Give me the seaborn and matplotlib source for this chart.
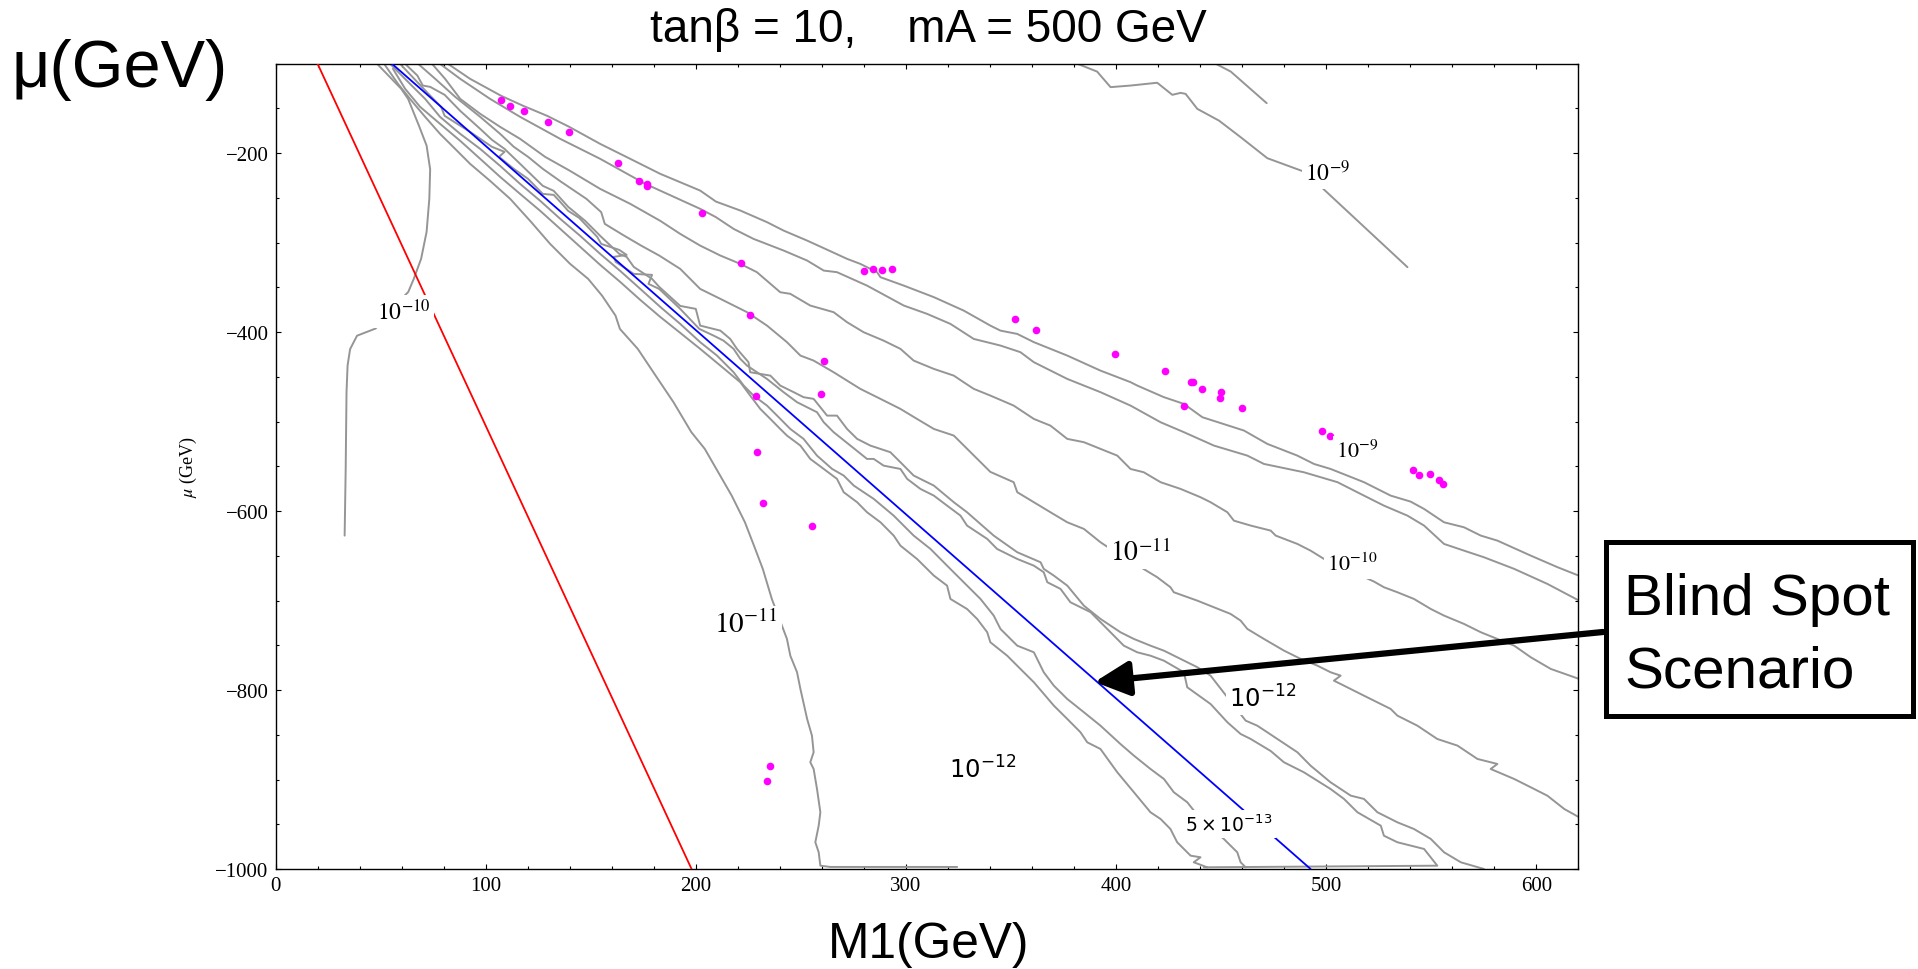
import matplotlib
matplotlib.use("Agg")
import matplotlib.pyplot as plt
import seaborn as sns
from matplotlib.ticker import MultipleLocator
from matplotlib.patches import Rectangle

# ---------------- data (M1 [GeV], mu [GeV]) ----------------
red_m1 = [20.0, 198.0]
red_mu = [-100.0, -1000.0]
blue_m1 = [55.4, 492.6]
blue_mu = [-100.0, -1000.0]

# far-left 1e-10 contour
m1_L4 = [48.3, 59.8, 63.1, 68.3, 71.9, 73.6, 73.2, 71.9, 69.3, 65.8, 63.2, 55.0, 47.6, 38.8, 35.5, 34.3, 33.8, 33.4, 32.9]
mu_L4 = [-100, -128, -139.3, -169.5, -191.5, -218, -251, -288, -318, -340.5, -355, -375, -396, -404, -419, -437.4, -467, -553, -627.4]

# top-right 1e-9 contour pieces
m1_T1 = [381.5, 391.0, 397.4, 407.0, 419.6, 426.8, 430.7, 433.1, 438.7, 449.0, 459.3, 472.0, 489.4, 499.0, 538.7]
mu_T1 = [-100, -108.8, -126.2, -124.4, -121.3, -134.8, -132.6, -133.7, -150.5, -163.6, -182.1, -205.6, -220.6, -240.7, -327.4]
m1_T2 = [447.4, 454.6, 471.7]
mu_T2 = [-100, -108.8, -144.1]

# band contours, right of blind spot
m1_R5a = [82.1, 92.6, 107.4, 117.9, 129.3, 139.8, 154.5, 168.8, 183.1, 202.1, 209.6, 221.2, 233.9, 241.8, 253.0, 261.7,
          272.0, 278.3, 286.3, 287.9, 299.0, 313.3, 327.5, 340.2, 345.0, 353.0, 360.9, 376.8, 392.6, 406.9, 410.1, 422.8,
          432.3, 441.1, 460.9, 472.0, 486.3, 494.2, 502.1, 518.0, 530.7, 540.2, 546.6, 556.1, 565.6, 573.6, 581.5, 597.4,
          610.1, 620.4]
mu_R5a = [-100.2, -116.9, -135.9, -147.1, -158.3, -170.6, -189.6, -206.3, -223.1, -241.8, -254.1, -264.1, -277.1, -286.5,
          -297.7, -307.0, -318.1, -323.7, -333.0, -338.6, -348.0, -360.9, -375.9, -392.7, -398.3, -402.0, -411.2, -426.2,
          -443.0, -455.9, -459.7, -472.7, -480.2, -495.1, -510.0, -524.9, -538.0, -547.3, -552.9, -567.7, -582.7, -589.4,
          -597.6, -612.5, -618.1, -627.4, -633.0, -649.8, -662.7, -672.3]

m1_R5b = [78.3, 87.9, 102.1, 116.4, 135.5, 154.5, 176.0, 202.1, 209.6, 218.0, 227.5, 241.8, 253.0, 260.9, 267.2, 281.5,
          299.0, 310.1, 321.2, 332.3, 345.0, 354.5, 360.9, 376.8, 392.6, 406.9, 421.2, 432.3, 446.6, 462.5, 470.4, 489.4,
          505.4, 518.0, 527.5, 538.7, 546.6, 556.1, 565.6, 575.1, 589.5, 605.3, 620.4]
mu_R5b = [-100.2, -116.9, -139.3, -159.4, -184.0, -206.3, -234.3, -262.2, -271.5, -284.6, -295.8, -308.8, -320.0, -331.2,
          -333.0, -348.0, -370.3, -379.6, -390.8, -407.6, -415.0, -422.4, -433.6, -452.3, -467.1, -482.1, -500.7, -511.8,
          -526.8, -538.0, -547.3, -556.6, -567.7, -582.7, -593.9, -605.1, -616.2, -636.7, -644.2, -651.6, -664.6, -681.4,
          -700.1]

m1_R4 = [74.5, 80.7, 87.9, 97.4, 106.9, 116.4, 128.3, 140.2, 154.5, 168.8, 183.1, 192.6, 202.1, 211.7, 221.2, 229.1,
         240.2, 245.0, 254.5, 265.6, 272.0, 279.9, 289.4, 297.4, 303.7, 313.3, 322.8, 327.5, 332.3, 340.2, 351.3, 360.9,
         368.8, 376.8, 384.7, 400.6, 406.9, 413.2, 421.2, 430.7, 440.2, 445.0, 453.0, 456.1, 464.1, 473.6, 476.0, 486.3,
         492.6, 499.0, 511.7, 522.8, 527.5, 533.9, 541.8, 549.8, 556.1, 565.6, 573.6, 581.5, 589.5, 597.4, 606.9, 620.4]
mu_R4 = [-100.2, -116.9, -139.3, -156.0, -170.6, -184.0, -204.1, -219.8, -239.9, -256.6, -275.6, -290.2, -303.3, -314.4,
         -323.7, -333.0, -355.4, -357.2, -370.3, -377.7, -388.9, -400.1, -409.5, -418.7, -431.8, -441.1, -448.6, -456.0,
         -463.4, -470.9, -482.1, -497.0, -504.5, -519.3, -523.0, -538.0, -552.9, -556.6, -567.7, -575.2, -584.5, -590.1,
         -601.3, -610.7, -616.2, -621.8, -627.4, -636.7, -644.2, -653.5, -666.9, -678.8, -685.1, -690.7, -698.2, -709.4,
         -716.8, -726.1, -735.4, -742.9, -750.4, -763.4, -776.4, -787.6]

m1_R3 = [67.9, 76.0, 85.5, 97.4, 106.9, 113.4, 120.2, 127.2, 136.0, 148.0, 155.0, 156.7, 165.3, 174.0, 182.6, 192.6,
         202.1, 211.7, 224.4, 233.9, 243.4, 249.8, 256.1, 265.6, 278.3, 287.9, 297.4, 305.3, 313.3, 322.8, 340.2, 351.3,
         353.0, 360.9, 368.8, 376.8, 384.7, 392.6, 397.4, 419.6, 425.9, 427.5, 438.7, 454.5, 459.3, 462.5, 470.4, 479.9,
         487.9, 495.8, 502.1, 506.9, 503.7, 508.5, 518.0, 530.7, 533.9, 543.4, 552.9, 562.5, 572.0, 581.5, 578.3, 589.5,
         597.4, 605.3, 613.3, 620.4]
mu_R3 = [-100.2, -116.9, -137.0, -159.4, -178.4, -192.9, -204.1, -217.5, -232.1, -251.1, -265.9, -279.0, -291.3, -303.3,
         -314.4, -329.3, -351.7, -362.8, -377.7, -392.7, -411.2, -426.2, -431.8, -444.8, -463.4, -474.6, -485.8, -497.0,
         -508.2, -515.6, -556.2, -567.7, -578.9, -590.1, -601.3, -612.5, -619.9, -634.8, -642.3, -673.9, -685.1, -690.7,
         -700.1, -714.9, -722.4, -731.7, -742.9, -755.9, -765.2, -772.7, -780.1, -783.9, -789.5, -795.1, -806.3, -821.1,
         -828.6, -839.8, -854.7, -862.1, -877.0, -882.6, -888.2, -899.4, -908.7, -918.1, -932.9, -942.2]

m1_R2 = [61.7, 67.5, 70.1, 73.6, 80.5, 87.9, 97.4, 103.0, 109.0, 116.4, 127.2, 132.4, 139.3, 147.4, 155.0, 163.6, 167.1,
         170.5, 179.2, 182.6, 192.6, 200.0, 202.1, 211.7, 216.4, 219.6, 225.1, 225.9, 235.5, 240.2, 246.6, 251.3, 256.1,
         262.5, 267.2, 272.0, 276.8, 283.1, 292.6, 297.4, 303.7, 313.3, 322.8, 329.1, 341.8, 353.0, 364.1, 365.6, 370.4,
         376.8, 384.7, 392.6, 402.1, 408.5, 416.4, 422.8, 438.7, 445.0, 453.0, 461.7, 467.2, 472.0, 476.8, 486.3, 492.6,
         502.1, 511.7, 518.0, 524.4, 533.9, 541.8, 549.8, 556.1, 564.1, 575.1]
mu_R2 = [-100.2, -113.2, -124.4, -125.9, -134.8, -152.7, -172.8, -185.1, -195.2, -211.9, -236.5, -242.1, -260.0, -275.7,
         -293.5, -312.5, -315.9, -327.1, -340.5, -349.4, -370.7, -374.0, -392.7, -398.3, -407.6, -418.7, -433.6, -444.8,
         -448.6, -459.7, -467.1, -472.7, -474.6, -493.3, -493.3, -508.2, -519.3, -526.8, -534.2, -545.4, -560.3, -571.5,
         -590.1, -601.3, -627.4, -646.0, -657.2, -664.6, -672.1, -683.3, -705.7, -720.5, -735.4, -742.9, -750.4, -756.0,
         -774.5, -783.9, -808.1, -834.2, -839.8, -847.2, -854.7, -869.5, -884.5, -903.1, -918.0, -921.7, -936.6, -947.8,
         -955.3, -966.4, -981.3, -992.5, -1000.0]

m1_R1 = [59.3, 67.5, 73.6, 78.8, 80.5, 92.6, 103.0, 109.0, 106.4, 113.4, 120.2, 127.2, 132.4, 135.9, 139.3, 144.5, 153.1,
         155.0, 163.6, 167.1, 161.0, 161.9, 170.5, 179.2, 177.5, 182.6, 192.6, 201.7, 208.5, 213.2, 218.0, 221.2, 224.4,
         233.9, 241.8, 248.2, 257.7, 260.9, 265.6, 273.6, 281.5, 284.7, 289.4, 297.4, 300.6, 306.9, 313.3, 319.6, 326.0,
         329.1, 338.7, 343.4, 353.0, 360.9, 365.6, 367.3, 373.6, 378.3, 387.9, 395.8, 403.7, 410.1, 416.4, 422.8, 432.3,
         433.9, 445.0, 453.0, 459.3, 464.1, 473.6, 479.9, 489.4, 502.1, 508.5, 514.9, 526.0, 527.5, 533.9, 546.6, 552.9,
         441.8]
mu_R1 = [-100.2, -120.6, -135.6, -148.2, -158.3, -176.2, -192.9, -198.5, -204.1, -217.5, -228.7, -245.5, -246.6, -255.5,
         -264.5, -272.3, -293.5, -301.4, -308.1, -313.7, -315.9, -321.5, -334.9, -336.0, -346.1, -351.7, -374.0, -396.4,
         -403.9, -409.5, -418.7, -429.9, -437.4, -452.3, -467.1, -478.3, -489.5, -500.7, -511.8, -526.8, -541.7, -541.7,
         -549.2, -552.9, -564.0, -575.2, -582.7, -593.9, -605.1, -616.2, -631.1, -642.3, -653.5, -661.0, -668.3, -679.5,
         -687.0, -701.9, -713.0, -731.7, -750.4, -757.8, -761.6, -767.2, -780.1, -796.9, -815.6, -836.0, -849.1, -854.7,
         -868.1, -880.7, -891.9, -910.6, -921.7, -936.6, -951.6, -962.8, -970.1, -977.6, -996.3, -998.1]

# band contours, left of blind spot
m1_L1 = [54.5, 64.0, 71.2, 78.3, 87.9, 97.4, 106.9, 116.4, 126.0, 135.5, 145.0, 154.5, 164.0, 173.6, 183.1, 192.6, 202.1,
         210.1, 218.0, 222.8, 227.5, 233.9, 238.7, 245.0, 251.3, 257.7, 264.9, 270.4, 275.2, 284.7, 294.2, 303.7, 311.7,
         319.6, 327.5, 335.5, 341.8, 345.0, 353.0, 360.9, 365.6, 370.4, 376.8, 384.7, 392.6, 402.1, 408.5, 416.4, 422.8,
         427.5, 433.9, 440.2, 451.3, 457.7, 459.3, 461.7]
mu_L1 = [-100.0, -122.5, -139.3, -159.4, -178.4, -195.2, -214.2, -234.3, -253.3, -273.4, -292.4, -312.5, -331.5, -351.7,
         -371.8, -390.8, -411.2, -426.2, -444.8, -459.7, -470.9, -482.1, -493.3, -508.2, -519.3, -538.0, -552.9, -560.3,
         -571.5, -586.4, -605.1, -627.4, -642.3, -661.0, -679.5, -698.2, -716.8, -731.7, -750.4, -757.8, -780.1, -795.1,
         -810.0, -824.8, -839.8, -860.3, -873.3, -888.2, -899.4, -914.2, -925.4, -944.1, -966.4, -981.3, -992.5, -998.1]

m1_L2 = [55.9, 61.7, 68.8, 78.3, 87.9, 97.4, 106.9, 116.4, 126.0, 135.5, 145.0, 154.5, 164.0, 173.6, 183.1, 192.6, 202.1,
         211.7, 221.2, 225.9, 230.7, 235.5, 240.2, 243.4, 249.8, 254.5, 260.9, 267.2, 270.4, 276.8, 281.5, 287.9, 294.2,
         297.4, 305.3, 313.3, 319.6, 321.2, 329.1, 333.9, 338.7, 340.2, 348.2, 354.5, 360.9, 370.4, 376.8, 383.1, 386.3,
         392.6, 400.6, 408.5, 416.4, 421.2, 425.9, 429.1, 435.5, 440.2, 437.0, 443.4]
mu_L2 = [-105.7, -128.1, -148.2, -167.2, -186.2, -206.3, -226.5, -245.5, -264.5, -284.6, -304.7, -324.8, -343.8, -364.0,
         -383.0, -400.8, -418.7, -437.4, -456.0, -470.9, -485.8, -497.0, -508.2, -515.6, -526.8, -541.7, -552.9, -564.0,
         -578.9, -590.1, -601.3, -612.5, -627.4, -638.6, -653.5, -672.1, -683.3, -698.2, -709.4, -720.5, -735.4, -746.6,
         -761.6, -776.4, -791.3, -817.4, -832.3, -847.2, -858.4, -865.9, -891.9, -914.2, -936.6, -944.1, -955.3, -970.1,
         -985.1, -986.9, -992.5, -998.1]

m1_L3 = [51.7, 58.3, 64.0, 71.2, 78.3, 85.5, 92.6, 102.1, 111.7, 121.2, 130.7, 140.2, 148.8, 155.4, 161.8, 163.9, 172.4,
         180.9, 189.4, 197.9, 204.3, 210.7, 217.1, 223.4, 227.7, 231.9, 236.2, 243.4, 245.0, 248.2, 249.8, 253.0, 255.3,
         256.1, 254.5, 256.1, 257.7, 259.3, 258.5, 256.9, 258.5, 259.3, 264.0, 324.4]
mu_L3 = [-100.2, -122.5, -139.3, -159.4, -178.4, -195.2, -211.9, -230.9, -251.1, -275.7, -301.4, -323.7, -340.5, -359.2,
         -381.5, -396.4, -418.7, -448.6, -478.3, -511.8, -530.5, -556.6, -582.7, -612.5, -638.6, -664.6, -698.2, -742.9,
         -761.6, -780.1, -798.8, -832.3, -851.0, -869.5, -880.7, -888.2, -910.6, -936.6, -951.6, -970.1, -981.3, -996.3,
         -997.7, -997.7]

# magenta benchmark points
dot_m1 = [107.4, 111.7, 118.1, 129.5, 139.9, 162.8, 173.1, 176.6, 176.9, 203.1, 221.5, 226.0, 228.7, 229.1, 261.2,
          259.6, 280.2, 284.2, 288.5, 293.4, 351.7, 362.0, 399.4, 423.4, 435.5, 436.8, 440.9, 450.1, 449.4, 432.3,
          460.1, 498.2, 501.8, 541.5, 544.4, 549.3, 553.6, 555.6, 231.8, 255.3, 235.1, 234.0]
dot_mu = [-140.1, -146.8, -153.0, -164.7, -175.8, -210.8, -231.3, -234.3, -236.2, -266.7, -322.9, -380.7, -471.6,
          -534.2, -431.8, -468.7, -331.9, -329.3, -330.8, -329.3, -385.6, -397.2, -424.0, -443.3, -456.0, -456.0,
          -463.8, -467.1, -473.9, -482.8, -484.4, -510.1, -516.3, -553.7, -559.6, -558.5, -564.8, -570.0, -591.2,
          -616.3, -884.5, -901.3]

# contour labels
label_m1 = [61.0, 500.7, 515.0, 411.7, 512.6, 224.0, 336.4, 469.8, 453.6]
label_mu = [-377.0, -222.0, -532.7, -645.6, -659.0, -726.1, -888.2, -808.8, -949.7]
label_txt = [r"$10^{-10}$", r"$10^{-9}$", r"$10^{-9}$", r"$10^{-11}$", r"$10^{-10}$", r"$10^{-11}$",
             r"$10^{-12}$", r"$10^{-12}$", r"$5\times10^{-13}$"]
label_font = ["stix", "stix", "stix", "stix", "stix", "stix", "dejavusans", "dejavusans", "dejavusans"]
label_size = [17, 17, 16, 20, 16, 21, 17.5, 17.5, 13.5]

x_ticks_major = [0, 100, 200, 300, 400, 500, 600]
y_ticks_major = [-1000, -800, -600, -400, -200]

arrow_tip = (389.8, -791.0)

# ---------------- drawing ----------------
sns.set_theme(style="ticks")
plt.rcParams["font.family"] = ["Liberation Serif", "DejaVu Serif"]
plt.rcParams["axes.unicode_minus"] = True
for key in ["text.color", "axes.labelcolor", "xtick.color", "ytick.color", "axes.edgecolor"]:
    plt.rcParams[key] = "black"

fig = plt.figure(figsize=(19.18, 9.70), dpi=100)
ax = fig.add_axes([0.14364, 0.10309, 0.67925, 0.83021])

gray = "#959595"
contours = [(m1_L4, mu_L4), (m1_T1, mu_T1), (m1_T2, mu_T2), (m1_R5a, mu_R5a), (m1_R5b, mu_R5b),
            (m1_R4, mu_R4), (m1_R3, mu_R3), (m1_R2, mu_R2), (m1_R1, mu_R1), (m1_L1, mu_L1),
            (m1_L2, mu_L2), (m1_L3, mu_L3)]
for xs, ys in contours:
    sns.lineplot(x=xs, y=ys, sort=False, estimator=None, color=gray, lw=1.4, ax=ax, zorder=2)

sns.lineplot(x=red_m1, y=red_mu, sort=False, estimator=None, color="#ff0000", lw=1.3, ax=ax, zorder=3)
sns.lineplot(x=blue_m1, y=blue_mu, sort=False, estimator=None, color="#0000ff", lw=1.3, ax=ax, zorder=3)

sns.scatterplot(x=dot_m1, y=dot_mu, color="#ff00ff", s=30, linewidth=0, ax=ax, zorder=4)

for lx, ly, lt, lf, ls in zip(label_m1, label_mu, label_txt, label_font, label_size):
    fam = "DejaVu Sans" if lf == "dejavusans" else "Liberation Serif"
    ax.text(lx, ly, lt, fontsize=ls, math_fontfamily=lf, family=fam, ha="center", va="center",
            color="black", zorder=5,
            bbox=dict(facecolor="white", edgecolor="none", pad=2.5))

ax.set_xlim(0, 620)
ax.set_ylim(-1000, -100)
ax.set_xticks(x_ticks_major)
ax.set_yticks(y_ticks_major)
ax.xaxis.set_minor_locator(MultipleLocator(20))
ax.yaxis.set_minor_locator(MultipleLocator(50))
ax.tick_params(which="both", direction="in", top=True, right=True, color="black", width=0.8,
               labelsize=15, pad=5, labelcolor="black")
ax.tick_params(which="major", length=3.8)
ax.tick_params(which="minor", length=1.9)
for lab in ax.get_xticklabels() + ax.get_yticklabels():
    lab.set_family("Liberation Serif")
for sp in ax.spines.values():
    sp.set_visible(True)
    sp.set_color("black")
    sp.set_linewidth(1.0)
ax.set_xlabel("")
ax.set_ylabel("")

# small axis label
fig.text(0.098, 0.5186, r"$\mu$ (GeV)", rotation=90, ha="center", va="center", fontsize=13,
         family="Liberation Serif", math_fontfamily="stix", color="black")

# large labels and title
fig.text(0.4838, 1 - 42 / 970, "tan\u03b2 = 10,    mA = 500 GeV", ha="center", va="baseline",
         fontsize=33, family=["Liberation Sans", "DejaVu Sans"], color="black")
fig.text(12 / 1918, 1 - 87 / 970, "\u03bc(GeV)", ha="left", va="baseline", fontsize=48,
         family=["Liberation Sans", "DejaVu Sans"], color="black")
fig.text(929 / 1918, 1 - 958 / 970, "M1(GeV)", ha="center", va="baseline", fontsize=35.7,
         family=["Liberation Sans", "DejaVu Sans"], color="black")

# Blind spot box + arrow
fig.patches.append(Rectangle((1606 / 1918, 1 - 717 / 970), (1913 - 1606) / 1918, (717 - 543) / 970,
                             transform=fig.transFigure, fill=False, edgecolor="black", linewidth=3.6,
                             zorder=10))
fig.text(1624 / 1918, 1 - 615 / 970, "Blind Spot", ha="left", va="baseline", fontsize=42,
         family=["Liberation Sans", "DejaVu Sans"], color="black")
fig.text(1624 / 1918, 1 - 687 / 970, "Scenario", ha="left", va="baseline", fontsize=42,
         family=["Liberation Sans", "DejaVu Sans"], color="black")
ax.annotate("", xy=arrow_tip, xycoords="data", xytext=(1603 / 1918, 1 - 633 / 970),
            textcoords="figure fraction", annotation_clip=False,
            arrowprops=dict(arrowstyle="-|>,head_length=0.6,head_width=0.3", lw=4.5, color="black",
                            mutation_scale=35, shrinkA=0, shrinkB=0), zorder=8)

fig.savefig("out.png", dpi=100, facecolor="white")
